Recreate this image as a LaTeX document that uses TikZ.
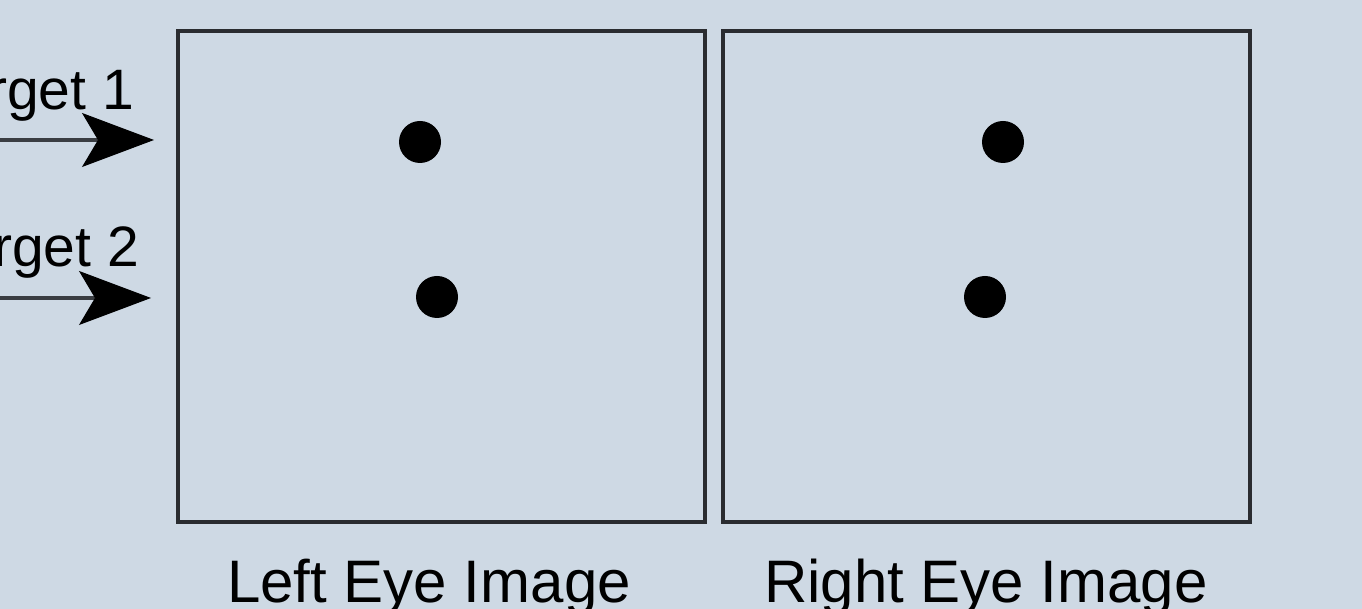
\documentclass[tikz,border=0pt]{standalone}
\usepackage{fontspec}
\setmainfont{Liberation Sans}
\usetikzlibrary{arrows.meta}
\definecolor{bg}{HTML}{CED9E4}
\definecolor{frame}{HTML}{2A2C30}
\definecolor{arrline}{HTML}{3A3D42}
\tikzset{
  imgbox/.style={draw=frame, line width=3.5pt, fill=none},
  dot/.style={circle, fill=black, minimum size=42pt, inner sep=0pt},
  lbl/.style={font=\fontsize{60}{66}\selectfont, inner sep=0pt, text=black},
  tlbl/.style={font=\fontsize{57}{62}\selectfont, inner sep=0pt, text=black},
  ptr/.style={draw=arrline, line width=3.5pt, -{Stealth[length=72pt,width=54pt,inset=16pt,color=black,fill=black,line width=1pt]}},
}
\begin{document}
\begin{tikzpicture}[x=1pt,y=1pt]
  \fill[bg] (0,0) rectangle (1362,609);
  \useasboundingbox (0,0) rectangle (1362,609);
  \begin{scope}
    \clip (0,0) rectangle (1362,609);
    % image frames
    \node[imgbox, minimum width=527pt, minimum height=491pt, inner sep=0pt, anchor=south west] (left) at (176,85) {};
    \node[imgbox, minimum width=527pt, minimum height=491pt, inner sep=0pt, anchor=south west] (right) at (721,85) {};
    % targets
    \node[dot] (l1) at (420,467) {};
    \node[dot] (l2) at (437,312) {};
    \node[dot] (r1) at (1003,467) {};
    \node[dot] (r2) at (985,312) {};
    % target labels
    \node[tlbl, anchor=base east] (t1) at (134,499) {Target 1};
    \node[tlbl, anchor=base east] (t2) at (139,342) {Target 2};
    % arrows
    \coordinate (a1s) at (-5,469);
    \coordinate (a1e) at (154,469);
    \coordinate (a2s) at (-5,311);
    \coordinate (a2e) at (151,311);
    \draw[ptr] (a1s) -- (a1e);
    \draw[ptr] (a2s) -- (a2e);
    % captions
    \node[lbl, anchor=base] (lc) at (429,6) {Left Eye Image};
    \node[lbl, anchor=base] (rc) at (986,6) {Right Eye Image};
  \end{scope}
\end{tikzpicture}
\end{document}
